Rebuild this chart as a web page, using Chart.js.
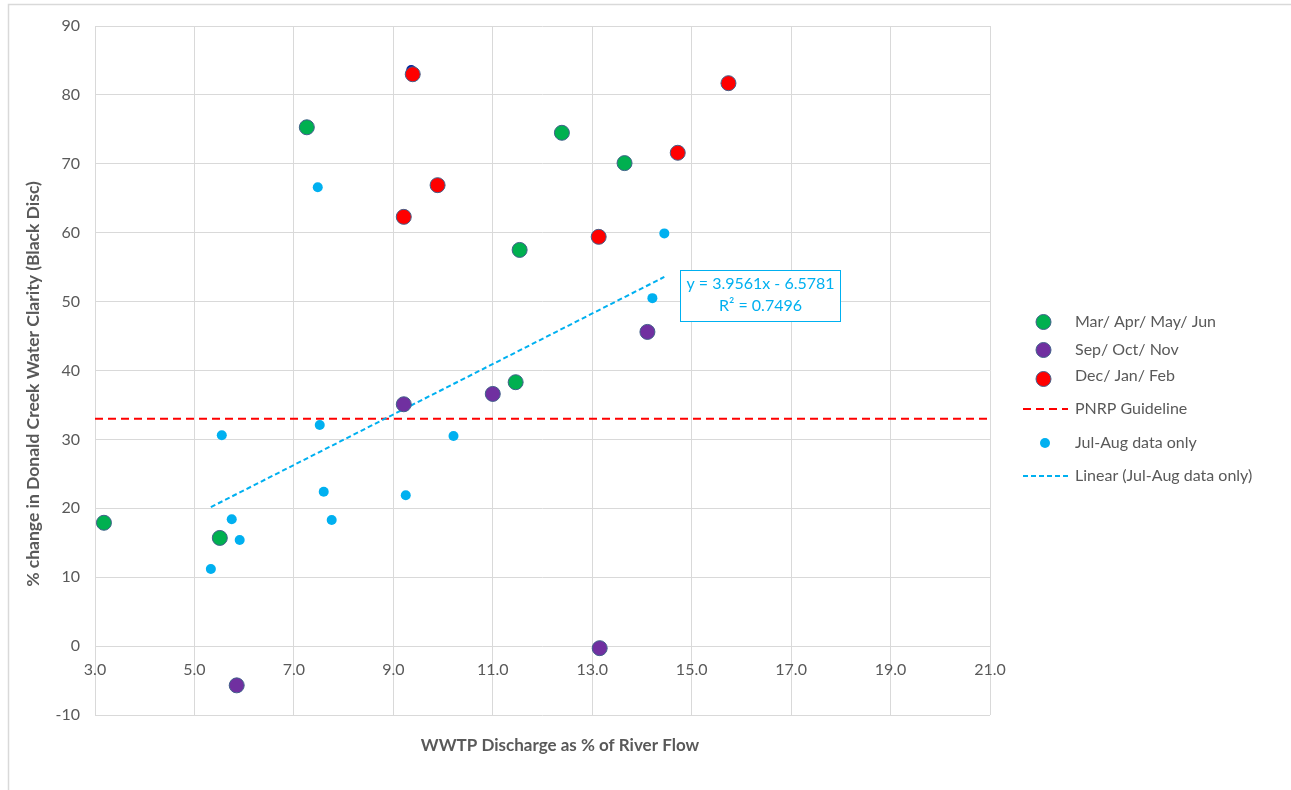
<!DOCTYPE html>
<html>
<head>
<meta charset="utf-8">
<title>Donald Creek water clarity vs WWTP discharge</title>
<script src="https://cdn.jsdelivr.net/npm/chart.js@4/dist/chart.umd.min.js"></script>
<style>
  html, body { margin: 0; padding: 0; background: #ffffff; }
  #wrap { position: relative; width: 1291px; height: 790px; }
</style>
</head>
<body>
<div id="wrap"><canvas id="chart" width="1291" height="790"></canvas></div>
<script>
// WWTP discharge (% of river flow) and % change in clarity, grouped by season
const springX = [3.18, 5.51, 7.26, 11.46, 11.54, 12.39, 13.65];
const springY = [17.9, 15.7, 75.3, 38.3, 57.5, 74.5, 70.1];

const autumnX = [5.85, 9.21, 11.0, 13.15, 14.11];
const autumnY = [-5.7, 35.1, 36.6, -0.3, 45.6];

const summerX = [9.39, 9.21, 9.89, 13.13, 14.72, 15.74];
const summerY = [83.0, 62.3, 66.9, 59.4, 71.6, 81.7];

const julAugX = [7.48, 5.55, 7.52, 5.75, 5.91, 5.33, 7.60, 7.76, 9.25, 10.21, 14.21, 14.45];
const julAugY = [66.6, 30.6, 32.1, 18.4, 15.4, 11.2, 22.4, 18.3, 21.9, 30.5, 50.5, 59.9];

const extraX = [9.36];
const extraY = [83.6];

const guidelineValue = 33;

const xTicks = [3, 5, 7, 9, 11, 13, 15, 17, 19, 21];
const yTicks = [-10, 0, 10, 20, 30, 40, 50, 60, 70, 80, 90];

const seriesNames = ['Mar/ Apr/ May/ Jun', 'Sep/ Oct/ Nov', 'Dec/ Jan/ Feb', 'PNRP Guideline', 'Jul-Aug data only', 'Linear (Jul-Aug data only)'];
const trendText = ['y = 3.9561x - 6.5781', 'R\u00B2 = 0.7496'];

const FONT = 'Lato, "Open Sans", "Liberation Sans", sans-serif';
const TEXT = '#595959';
const GRID = '#D9D9D9';
const C_GREEN = '#00B050', C_PURPLE = '#7030A0', C_RED = '#FF0000', C_CYAN = '#00B0F0', C_EDGE = '#41608A';

const pts = (xs, ys) => xs.map((x, i) => ({ x, y: ys[i] }));

// least-squares line through the Jul-Aug points
function linearFit(xs, ys) {
  const n = xs.length;
  const mx = xs.reduce((a, b) => a + b, 0) / n;
  const my = ys.reduce((a, b) => a + b, 0) / n;
  let sxy = 0, sxx = 0;
  for (let i = 0; i < n; i++) { sxy += (xs[i] - mx) * (ys[i] - my); sxx += (xs[i] - mx) ** 2; }
  const slope = sxy / sxx;
  const icpt = my - slope * mx;
  const x0 = Math.min(...xs), x1 = Math.max(...xs);
  return [{ x: x0, y: slope * x0 + icpt }, { x: x1, y: slope * x1 + icpt }];
}

const extras = {
  id: 'extras',
  beforeDraw(chart) {
    const ctx = chart.ctx;
    ctx.save();
    ctx.strokeStyle = GRID;
    ctx.lineWidth = 1.5;
    ctx.beginPath();
    ctx.moveTo(8.5, 790); ctx.lineTo(8.5, 4.5); ctx.lineTo(1291, 4.5);
    ctx.stroke();
    ctx.restore();
  },
  afterDraw(chart) {
    const ctx = chart.ctx;
    const xs = chart.scales.x, ys = chart.scales.y;
    ctx.save();
    ctx.fillStyle = TEXT;
    ctx.font = '16px ' + FONT;

    // y tick labels
    ctx.textAlign = 'right'; ctx.textBaseline = 'middle';
    yTicks.forEach(v => ctx.fillText(String(v), 80, ys.getPixelForValue(v)));

    // x tick labels sit just under the zero line
    ctx.textAlign = 'center';
    const zeroY = ys.getPixelForValue(0);
    xTicks.forEach(v => ctx.fillText(v.toFixed(1), xs.getPixelForValue(v), zeroY + 24));

    // axis titles
    ctx.font = 'bold 17px ' + FONT;
    ctx.fillText('WWTP Discharge as % of River Flow', 560, 746);
    ctx.save();
    ctx.translate(33, 384);
    ctx.rotate(-Math.PI / 2);
    ctx.font = 'bold 17.5px ' + FONT;
    ctx.fillText('% change in Donald Creek Water Clarity (Black Disc)', 0, 0);
    ctx.restore();

    // legend
    ctx.font = '16px ' + FONT;
    ctx.textAlign = 'left';
    const tx = 1075;
    const dot = (cx, cy, r, fill, edge) => {
      ctx.beginPath(); ctx.arc(cx, cy, r, 0, Math.PI * 2);
      ctx.fillStyle = fill; ctx.fill();
      if (edge) { ctx.lineWidth = 1; ctx.strokeStyle = edge; ctx.stroke(); }
    };
    const dash = (cy, color, pattern) => {
      ctx.beginPath(); ctx.setLineDash(pattern); ctx.lineWidth = 2; ctx.strokeStyle = color;
      ctx.moveTo(1023, cy); ctx.lineTo(1068, cy); ctx.stroke(); ctx.setLineDash([]);
    };
    dot(1043.5, 322, 7.5, C_GREEN, C_EDGE);
    dot(1043.5, 350, 7.5, C_PURPLE, C_EDGE);
    dot(1043.5, 379, 7.5, C_RED, C_EDGE);
    dash(409, C_RED, [8, 5]);
    dot(1045, 443, 5, C_CYAN, null);
    dash(476, C_CYAN, [5, 3]);
    ctx.fillStyle = TEXT;
    ctx.fillText(seriesNames[0], tx, 322);
    ctx.fillText(seriesNames[1], tx, 350);
    ctx.fillText(seriesNames[2], tx, 376);
    ctx.fillText(seriesNames[3], tx, 409);
    ctx.fillText(seriesNames[4], tx, 443);
    ctx.fillText(seriesNames[5], tx, 476);

    // trend equation box
    ctx.fillStyle = '#ffffff';
    ctx.fillRect(680.5, 270.5, 160, 51);
    ctx.strokeStyle = C_CYAN; ctx.lineWidth = 1;
    ctx.strokeRect(680.5, 270.5, 160, 51);
    ctx.fillStyle = C_CYAN;
    ctx.textAlign = 'center';
    ctx.fillText(trendText[0], 760.5, 284);
    ctx.fillText(trendText[1], 760.5, 306);
    ctx.restore();
  }
};

const bigPoint = (label, data, color, order) => ({
  label, data, type: 'scatter', order,
  backgroundColor: color, borderColor: C_EDGE, borderWidth: 1,
  pointRadius: 7.5, pointHoverRadius: 7.5
});

new Chart(document.getElementById('chart'), {
  type: 'scatter',
  data: {
    datasets: [
      bigPoint(seriesNames[0], pts(springX, springY), C_GREEN, 1),
      bigPoint(seriesNames[1], pts(autumnX, autumnY), C_PURPLE, 1),
      bigPoint(seriesNames[2], pts(summerX, summerY), C_RED, 1),
      {
        label: seriesNames[3], type: 'line', order: 5,
        data: [{ x: xTicks[0], y: guidelineValue }, { x: xTicks[xTicks.length - 1], y: guidelineValue }],
        borderColor: C_RED, borderWidth: 2, borderDash: [8, 5], pointRadius: 0, fill: false
      },
      {
        label: seriesNames[4], type: 'scatter', order: 3,
        data: pts(julAugX, julAugY),
        backgroundColor: C_CYAN, borderWidth: 0, pointRadius: 5, pointHoverRadius: 5
      },
      {
        label: seriesNames[5], type: 'line', order: 4,
        data: linearFit(julAugX, julAugY),
        borderColor: C_CYAN, borderWidth: 2, borderDash: [5, 3], pointRadius: 0, fill: false
      },
      {
        label: 'Other', type: 'scatter', order: 2,
        data: pts(extraX, extraY),
        backgroundColor: '#00209A', borderWidth: 0, pointRadius: 5
      }
    ]
  },
  options: {
    responsive: false,
    animation: false,
    events: [],
    layout: { padding: { left: 95, right: 301, top: 26, bottom: 75 } },
    plugins: { legend: { display: false }, tooltip: { enabled: false } },
    scales: {
      x: {
        type: 'linear', min: 3, max: 21,
        ticks: { display: false, stepSize: 2 },
        grid: { color: GRID, lineWidth: 1, drawTicks: false },
        border: { display: false }
      },
      y: {
        type: 'linear', min: -10, max: 90,
        ticks: { display: false, stepSize: 10 },
        grid: { color: GRID, lineWidth: 1, drawTicks: false },
        border: { display: false }
      }
    }
  },
  plugins: [extras]
});
</script>
</body>
</html>
